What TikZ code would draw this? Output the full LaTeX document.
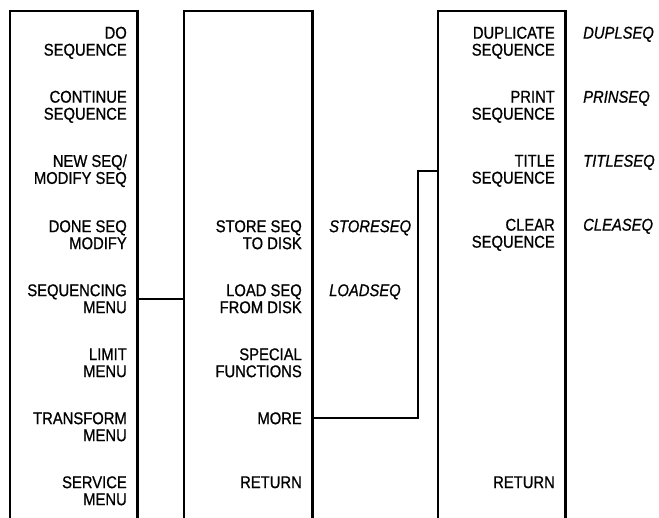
\documentclass[tikz,border=0pt]{standalone}
\usepackage{fontspec}
\setmainfont{Liberation Sans}[FakeStretch=0.87, FakeBold=0.8]
\usetikzlibrary{positioning}

\begin{document}
\begin{tikzpicture}[x=1pt, y=-1pt, line width=2.4pt, node distance=25pt,
  item/.style={anchor=east, align=right, inner sep=0pt, font=\fontsize{17}{17}\selectfont},
  cmd/.style={inner sep=0pt, font=\fontsize{17}{17}\selectfont\itshape},
  panel/.style={anchor=north west, minimum width=125pt, minimum height=507pt, inner sep=0pt}]
  \useasboundingbox (0,0) rectangle (659,518);
  % the three menu panels (open at the bottom)
  \node[panel] (main) at (10,11) {};
  \node[panel, minimum width=126pt] (seqm) at (184,11) {};
  \node[panel] (more) at (438,11) {};
  \foreach \p in {main,seqm,more}
    \draw (\p.south west) |- (\p.north east) -- (\p.south east);

  % main menu
  \node[item] (doseq)   at (128,42.8)  {DO\\SEQUENCE};
  \node[item] (contseq) at (128,106.8) {CONTINUE\\SEQUENCE};
  \node[item] (newseq)  at (128,170.8) {NEW SEQ/\\MODIFY SEQ};
  \node[item] (doneseq) at (128,234.8) {DONE SEQ\\MODIFY};
  \node[item] (seqmenu) at (128,298.8) {SEQUENCING\\MENU};
  \node[item] (limit)   at (128,362.8) {LIMIT\\MENU};
  \node[item] (transf)  at (128,426.8) {TRANSFORM\\MENU};
  \node[item] (service) at (128,490.8) {SERVICE\\MENU};

  % sequencing menu
  \node[item] (storeseq) at (303,234.8) {STORE SEQ\\TO DISK};
  \node[item] (loadseq)  at (303,298.8) {LOAD SEQ\\FROM DISK};
  \node[item] (special)  at (303,362.8) {SPECIAL\\FUNCTIONS};
  \node[item] (moreitem) at (303,418.3) {MORE};
  \node[item] (ret1)     at (303,482.3) {RETURN};
  \node[cmd, right=25pt of storeseq.north east, anchor=north west] (storecmd) {STORESEQ};
  \node[cmd, right=25pt of loadseq.north east, anchor=north west] (loadcmd) {LOADSEQ};

  % more menu
  \node[item] (dupl)   at (556,42.8)  {DUPLICATE\\SEQUENCE};
  \node[item] (print)  at (556,106.8) {PRINT\\SEQUENCE};
  \node[item] (title)  at (556,170.8) {TITLE\\SEQUENCE};
  \node[item] (clear)  at (556,234.8) {CLEAR\\SEQUENCE};
  \node[item] (ret2)   at (556,482.3) {RETURN};
  \node[cmd, right=26pt of dupl.north east, anchor=north west] (duplcmd) {DUPLSEQ};
  \node[cmd, right=26pt of print.north east, anchor=north west] (printcmd) {PRINSEQ};
  \node[cmd, right=26pt of title.north east, anchor=north west] (titlecmd) {TITLESEQ};
  \node[cmd, right=26pt of clear.north east, anchor=north west] (clearcmd) {CLEASEQ};

  % connectors
  \coordinate (bend) at (418,0);
  \draw (seqmenu -| main.east) -- (seqmenu -| seqm.west);
  \draw (moreitem -| seqm.east) -| (title -| bend) -- (title -| more.west);
\end{tikzpicture}
\end{document}
